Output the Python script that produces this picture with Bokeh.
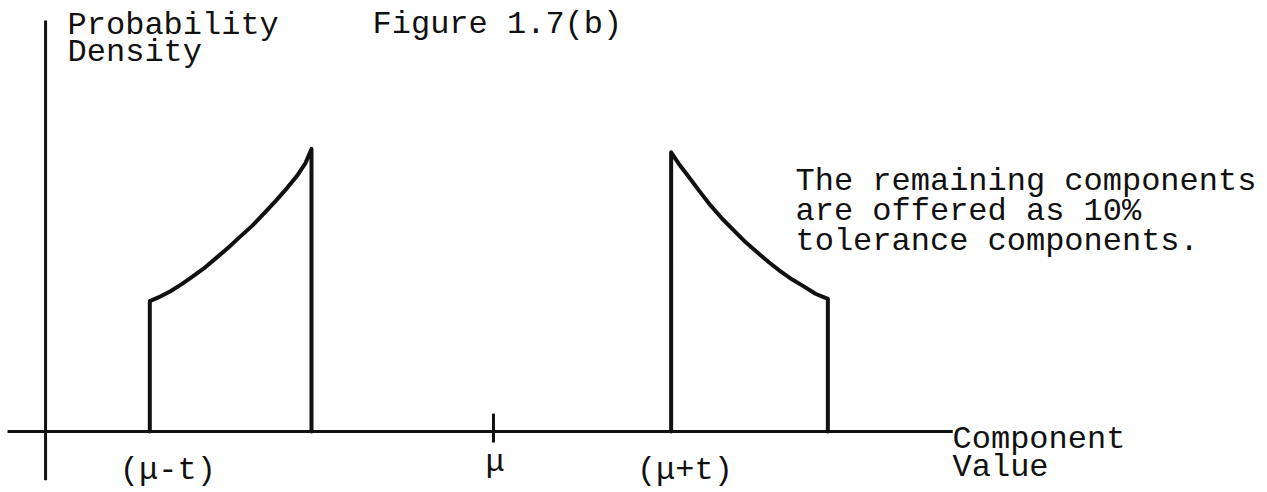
from bokeh.plotting import figure
from bokeh.models import Range1d
from bokeh.embed import file_html
from bokeh.resources import INLINE
from bokeh.core.properties import value

# Probability density of the parts left once the tight-tolerance ones are removed:
# two truncated tails on either side of the nominal value mu.
mu = 100.0

left_x = [80.02, 80.55, 81.22, 81.90, 82.58, 83.26, 83.94, 84.61,
          85.29, 85.97, 86.65, 87.33, 88.01, 88.59, 89.07, 89.42]
left_density = [0.459, 0.473, 0.494, 0.520, 0.549, 0.579, 0.614, 0.649,
                0.687, 0.724, 0.767, 0.811, 0.858, 0.901, 0.945, 0.995]

right_x = [110.33, 110.77, 111.26, 111.94, 112.62, 113.30, 113.97, 114.65,
           115.33, 116.01, 116.69, 117.37, 118.04, 118.72, 119.44]
right_density = [0.983, 0.943, 0.904, 0.849, 0.796, 0.749, 0.708, 0.667,
                 0.631, 0.596, 0.564, 0.535, 0.511, 0.485, 0.467]

tick_labels = ["(\u03bc-t)", "\u03bc", "(\u03bc+t)"]
y_label = ["Probability", "Density"]
x_label = ["Component", "Value"]
title = "Figure 1.7(b)"
note = ["The remaining components", "are offered as 10%", "tolerance components."]

FONT = value("Liberation Mono")
SIZE = "32px"
INK = "#111111"

p = figure(width=1267, height=492, output_backend="svg", toolbar_location=None,
           x_range=Range1d(71.34, 145.0), y_range=Range1d(-0.2148, 1.5176),
           x_axis_type=None, y_axis_type=None, min_border=0,
           background_fill_color="white", border_fill_color="white")
p.outline_line_color = None
p.grid.visible = False


def outline(xs, ds):
    # close each tail down to the baseline at both ends
    return [xs[0]] + list(xs) + [xs[-1]], [0.0] + list(ds) + [0.0]


for xs, ds in ((left_x, left_density), (right_x, right_density)):
    ox, oy = outline(xs, ds)
    p.line(ox, oy, line_color=INK, line_width=4, line_join="round", line_cap="round")

# hand-drawn axes
p.segment(x0=[71.75], y0=[0.0], x1=[126.7], y1=[0.0], line_color=INK, line_width=3.2)
p.segment(x0=[73.96], y0=[-0.172], x1=[73.96], y1=[1.447], line_color=INK, line_width=3.0)
p.segment(x0=[mu], y0=[-0.039], x1=[mu], y1=[0.063], line_color=INK, line_width=3.0)

# tick labels under the tail edges and the nominal value
tick_pos = [left_x[0], mu, right_x[0]]
p.text(x=[tick_pos[0] + 1.05, tick_pos[1] + 0.1, tick_pos[2] + 0.8],
       y=[-0.138, -0.110, -0.138], text=tick_labels,
       text_font=FONT, text_font_size=SIZE, text_color=INK,
       text_align="center", text_baseline="alphabetic")

p.text(x=[75.24, 75.24], y=[1.429, 1.334], text=y_label,
       text_font=FONT, text_font_size=SIZE, text_color=INK,
       text_align="left", text_baseline="alphabetic")

p.text(x=[92.97], y=[1.433], text=[title],
       text_font=FONT, text_font_size=SIZE, text_color=INK,
       text_align="left", text_baseline="alphabetic")

p.text(x=[126.69, 126.69], y=[-0.028, -0.128], text=x_label,
       text_font=FONT, text_font_size=SIZE, text_color=INK,
       text_align="left", text_baseline="alphabetic")

p.text(x=[117.56] * 3, y=[0.880, 0.774, 0.669], text=note,
       text_font=FONT, text_font_size=SIZE, text_color=INK,
       text_align="left", text_baseline="alphabetic")

open("out.html", "w").write(file_html(p, INLINE))
